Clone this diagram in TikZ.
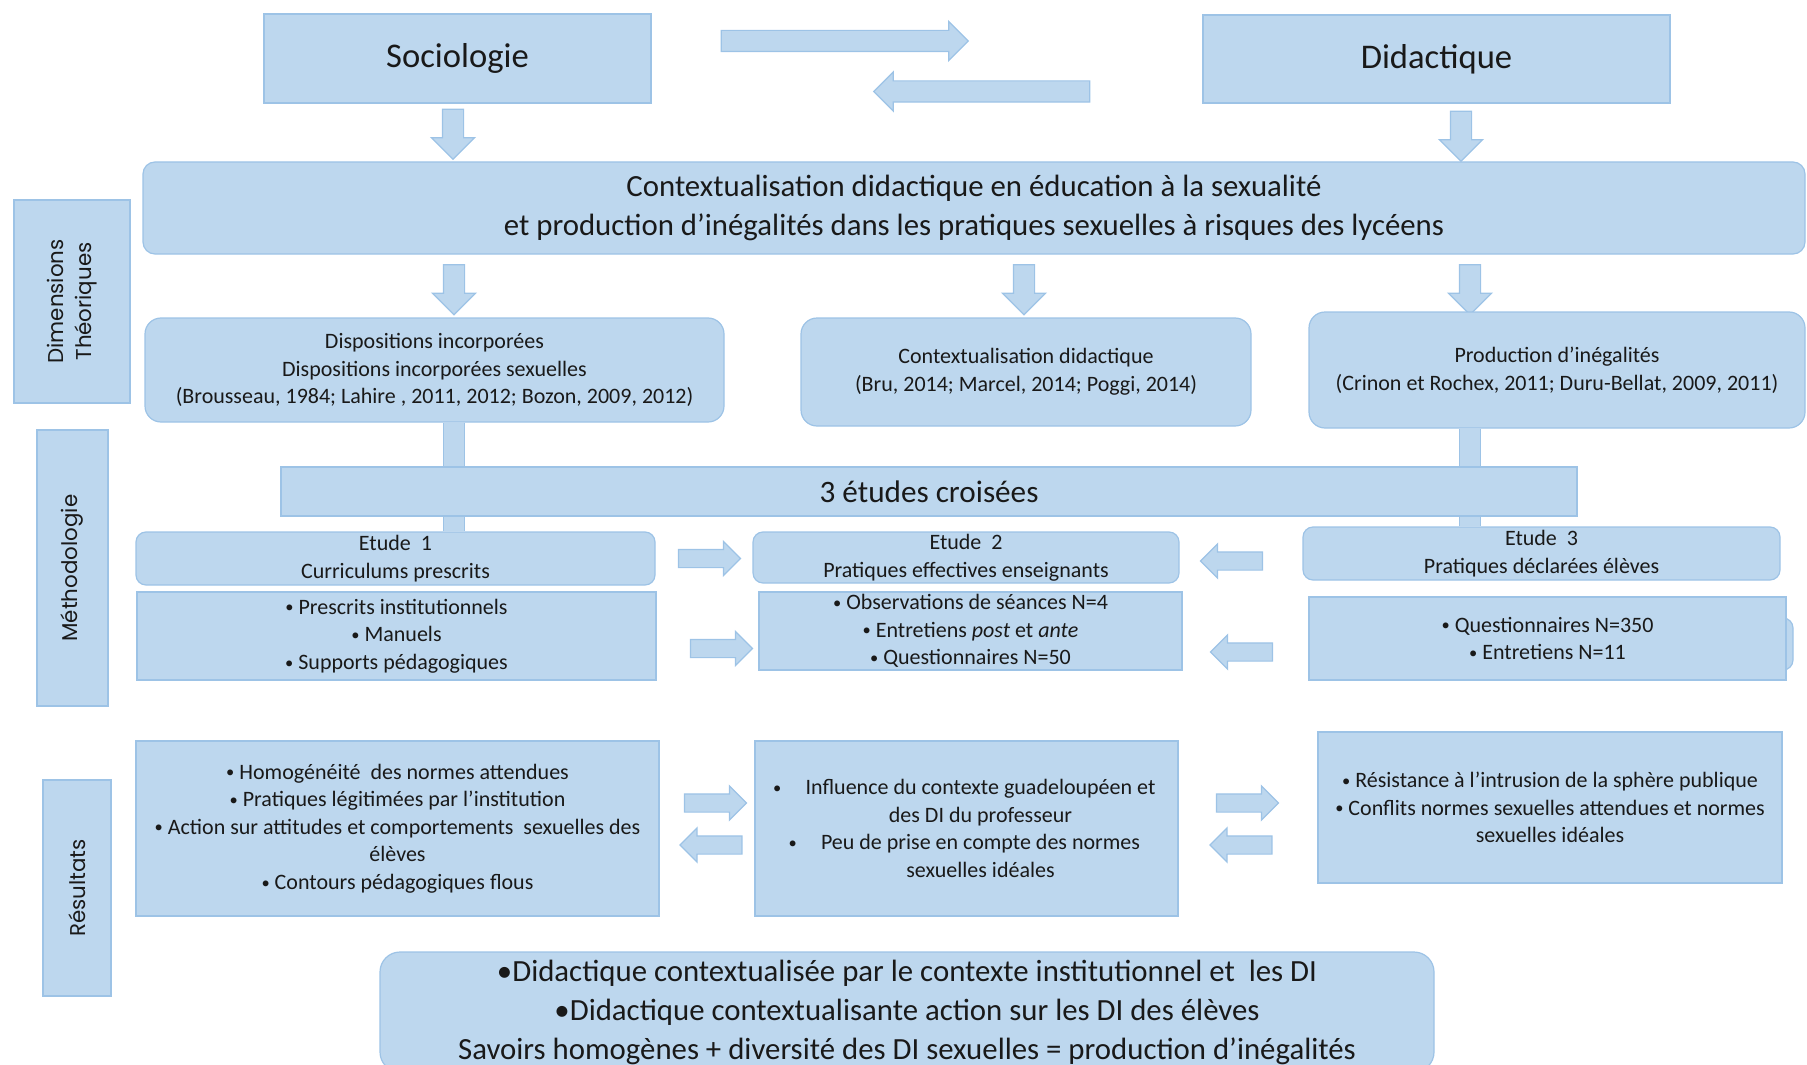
\documentclass[tikz,border=0pt]{standalone}
\usepackage{fontspec}
\setmainfont{Carlito}
\newfontfamily\sidefont{Poppins}
\usepackage{tikz}
\usetikzlibrary{shapes.arrows,backgrounds}
\definecolor{boxfill}{HTML}{BDD7EE}
\definecolor{boxline}{HTML}{9DC3E6}
\newcommand{\bul}{\raisebox{0.12ex}{\scalebox{0.75}{\textbullet}}}

\begin{document}
\begin{tikzpicture}[x=0.5pt, y=-0.5pt,
    sqbox/.style={draw=boxline, fill=boxfill, line width=0.6pt, align=center, inner sep=0pt, text=black!90},
    rbox/.style={sqbox, rounded corners=6pt},
    small/.style={font=\fontsize{11}{13.8}\selectfont},
    big/.style={font=\fontsize{15.4}{19.5}\selectfont},
    side/.style={sqbox, font=\sidefont\fontsize{10.7}{13.8}\selectfont, rotate=90},
    blockarrow/.style={single arrow, draw=boxline, fill=boxfill, line width=0.6pt, inner xsep=0pt, minimum width=0pt},
    harrow/.style={blockarrow, inner ysep=5pt, single arrow head extend=4.5pt},
    darrow/.style={blockarrow, inner ysep=5pt, single arrow head extend=5.5pt, minimum height=25pt, rotate=-90},
    sarrow/.style={blockarrow, inner ysep=4.25pt, single arrow head extend=4pt, minimum height=31pt},
    bar/.style={draw=boxline, line width=0.6pt, double=boxfill, double distance=10pt}]
    \useasboundingbox (0,0) rectangle (1807,1064);

    \node[sqbox, minimum width=193.5pt, minimum height=44.5pt, font=\fontsize{17.3}{20}\selectfont] (soc) at (457.5,58.5) {Sociologie};
    \node[sqbox, minimum width=233.5pt, minimum height=44pt, font=\fontsize{17.3}{20}\selectfont] (did) at (1436.5,59) {Didactique};
    \node[harrow, minimum height=123.5pt] (toright) at (839.5,41) {};
    \node[harrow, minimum height=108pt, rotate=180] (toleft) at (987,91.5) {};
    \node[darrow] (dn1) at (453,129) {};
    \node[darrow] (dn2) at (1461,131) {};

    \node[rbox, minimum width=831pt, minimum height=46pt, big] (ctx) at (974,208)
        {Contextualisation didactique en éducation à la sexualité\\et production d’inégalités dans les pratiques sexuelles à risques des lycéens};
    \node[side, minimum width=101.5pt, minimum height=58pt] (dimth) at (72,301.5) {Dimensions\\Théoriques};
    \node[darrow] (dn3) at (454,284.5) {};
    \node[darrow] (dn4) at (1024,284.5) {};
    \node[darrow] (dn5) at (1470,284.5) {};

    \node[rbox, rounded corners=8pt, minimum width=289.5pt, minimum height=52pt, small] (disp) at (434.5,370)
        {Dispositions incorporées\\Dispositions incorporées sexuelles\\(Brousseau, 1984; Lahire , 2011, 2012; Bozon, 2009, 2012)};
    \node[rbox, rounded corners=8pt, minimum width=225pt, minimum height=54pt, small] (ctxd) at (1026,372)
        {Contextualisation didactique\\(Bru, 2014; Marcel, 2014; Poggi, 2014)};
    \node[rbox, rounded corners=8pt, minimum width=248pt, minimum height=58pt, small] (prod) at (1557,370)
        {Production d’inégalités\\(Crinon et Rochex, 2011; Duru-Bellat, 2009, 2011)};

    \node[sqbox, minimum width=648pt, minimum height=24.5pt, font=\fontsize{15.6}{18}\selectfont] (etudes) at (929,491.5) {3 études croisées};
    \node[side, minimum width=138pt, minimum height=35.5pt] (meth) at (72.5,568) {Méthodologie};

    \node[rbox, rounded corners=5pt, minimum width=259.5pt, minimum height=26.5pt, small] (et1) at (395.5,558.5) {Etude\ \ 1\\Curriculums prescrits};
    \node[sqbox, minimum width=259.5pt, minimum height=44pt, small] (et1c) at (396.5,636)
        {\bul\ Prescrits institutionnels\\\bul\ Manuels\\\bul\ Supports pédagogiques};
    \node[rbox, rounded corners=5pt, minimum width=213pt, minimum height=25.5pt, small] (et2) at (966,557.5) {Etude\ \ 2\\Pratiques effectives enseignants};
    \node[sqbox, minimum width=211.5pt, minimum height=39pt, small] (et2c) at (970.5,631)
        {\bul\ Observations de séances N=4\\\bul\ Entretiens \textit{post} et \textit{ante}\\\bul\ Questionnaires N=50};
    \node[rbox, rounded corners=5pt, minimum width=238.5pt, minimum height=26.5pt, small] (et3) at (1541.5,553.5) {Etude\ \ 3\\Pratiques déclarées élèves};
    \node[rbox, rounded corners=5pt, minimum width=236.5pt, minimum height=26pt] (et3back) at (1556.5,644) {};
    \node[sqbox, minimum width=238.5pt, minimum height=41.5pt, small] (et3c) at (1547.5,638.5)
        {\bul\ Questionnaires N=350\\\bul\ Entretiens N=11};
    \node[sarrow] (e12) at (705,558.5) {};
    \node[sarrow, rotate=180] (e32) at (1236,561) {};
    \node[sarrow] (c12) at (717,648.5) {};
    \node[sarrow, rotate=180] (c32) at (1246,652) {};

    \node[side, minimum width=108pt, minimum height=34pt] (res) at (77,888) {Résultats};
    \node[sqbox, minimum width=261.5pt, minimum height=87.5pt, small] (r1) at (397.5,828.5)
        {\bul\ Homogénéité\ \ des normes attendues\\\bul\ Pratiques légitimées par l’institution\\\bul\ Action sur attitudes et comportements\ \ sexuelles des\\élèves\\\bul\ Contours pédagogiques flous};
    \node[sqbox, minimum width=211.5pt, minimum height=87.5pt, small] (r2) at (966.5,828.5)
        {\hspace*{14pt}\llap{\bul\hspace{1.1em}}Influence du contexte\ guadeloupéen et\\\hspace*{14pt}des DI du professeur\\\hspace*{14pt}\llap{\bul\hspace{1.1em}}Peu de prise en compte\ des normes\\\hspace*{14pt}sexuelles idéales};
    \node[sqbox, minimum width=232pt, minimum height=75.5pt, small] (r3) at (1550,807.5)
        {\bul\ Résistance à l’intrusion de la sphère publique\\\bul\ Conflits normes sexuelles attendues et normes\\sexuelles idéales};
    \node[sarrow] (r12) at (711,803) {};
    \node[sarrow, rotate=180] (r21) at (715.5,845) {};
    \node[sarrow] (r23) at (1243,803) {};
    \node[sarrow, rotate=180] (r32) at (1245.5,845) {};

    \node[rbox, rounded corners=10pt, minimum width=527pt, minimum height=60pt, big] (concl) at (907,1012)
        {\textbullet Didactique contextualisée par le contexte institutionnel et\ \ les DI\\\textbullet Didactique contextualisante action sur les DI des élèves\\Savoirs homogènes + diversité des DI sexuelles = production d’inégalités};

    \begin{scope}[on background layer]
        \draw[bar] (dn3 |- disp.south) -- (dn3 |- et1.north);
        \draw[bar] (dn5 |- prod.south) -- (dn5 |- et3.north);
    \end{scope}
\end{tikzpicture}
\end{document}
